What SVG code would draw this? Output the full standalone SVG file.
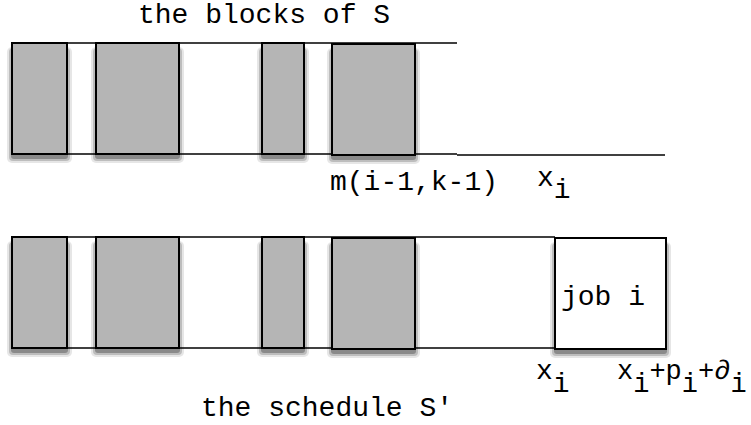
<svg xmlns="http://www.w3.org/2000/svg" width="751" height="425" viewBox="0 0 751 425">
<style>
text{font-family:"Liberation Mono","DejaVu Sans Mono",monospace;font-size:28px;fill:#000}
.blk{fill:#b5b5b5;stroke:#000;stroke-width:2}
.job{fill:#fff;stroke:#000;stroke-width:2}
.ln{stroke:#000;stroke-width:1.5;fill:none}
.sm{font-size:27px}
.s1{fill:#e6e6e6}
.s2{fill:#bdbdbd}
.s3{fill:#8a8a8a}
</style>
<g id="shadows">
<rect class="s1" x="7" y="47" width="65" height="116" rx="5"/><rect class="s2" x="9" y="48" width="61" height="113" rx="4"/><rect class="s3" x="11" y="50" width="57" height="109" rx="3"/>
<rect class="s1" x="91" y="47" width="93" height="116" rx="5"/><rect class="s2" x="93" y="48" width="89" height="113" rx="4"/><rect class="s3" x="95" y="50" width="85" height="109" rx="3"/>
<rect class="s1" x="257" y="47" width="52" height="116" rx="5"/><rect class="s2" x="259" y="48" width="48" height="113" rx="4"/><rect class="s3" x="261" y="50" width="44" height="109" rx="3"/>
<rect class="s1" x="327" y="48" width="93" height="116" rx="5"/><rect class="s2" x="329" y="49" width="89" height="113" rx="4"/><rect class="s3" x="331" y="51" width="85" height="109" rx="3"/>
<rect class="s1" x="7" y="241" width="65" height="116" rx="5"/><rect class="s2" x="9" y="242" width="61" height="113" rx="4"/><rect class="s3" x="11" y="244" width="57" height="109" rx="3"/>
<rect class="s1" x="91" y="241" width="93" height="116" rx="5"/><rect class="s2" x="93" y="242" width="89" height="113" rx="4"/><rect class="s3" x="95" y="244" width="85" height="109" rx="3"/>
<rect class="s1" x="257" y="241" width="52" height="116" rx="5"/><rect class="s2" x="259" y="242" width="48" height="113" rx="4"/><rect class="s3" x="261" y="244" width="44" height="109" rx="3"/>
<rect class="s1" x="327" y="242" width="93" height="116" rx="5"/><rect class="s2" x="329" y="243" width="89" height="113" rx="4"/><rect class="s3" x="331" y="245" width="85" height="109" rx="3"/>
<rect class="s1" x="550" y="242" width="121" height="116" rx="5"/><rect class="s2" x="552" y="243" width="117" height="113" rx="4"/><rect class="s3" x="554" y="245" width="113" height="109" rx="3"/>
</g>
<g id="connectors">
<line class="ln" x1="12" y1="43" x2="457" y2="43"/>
<line class="ln" x1="12" y1="154" x2="457" y2="154"/>
<line class="ln" x1="457" y1="155" x2="665" y2="155"/>
<line class="ln" x1="12" y1="237" x2="555" y2="237"/>
<line class="ln" x1="12" y1="348" x2="555" y2="348"/>
</g>
<g id="top-block-1"><rect class="blk" x="12" y="43" width="55" height="111"/></g>
<g id="top-block-2"><rect class="blk" x="96" y="43" width="83" height="111"/></g>
<g id="top-block-3"><rect class="blk" x="262" y="43" width="42" height="111"/></g>
<g id="top-block-4"><rect class="blk" x="332" y="44" width="83" height="111"/></g>
<g id="bottom-block-1"><rect class="blk" x="12" y="237" width="55" height="111"/></g>
<g id="bottom-block-2"><rect class="blk" x="96" y="237" width="83" height="111"/></g>
<g id="bottom-block-3"><rect class="blk" x="262" y="237" width="42" height="111"/></g>
<g id="bottom-block-4"><rect class="blk" x="332" y="238" width="83" height="111"/></g>
<g id="job-i">
<rect class="job" x="555" y="238" width="111" height="111"/>
<text x="561" y="305">job i</text>
</g>
<g id="labels">
<text x="138" y="23">the blocks of S</text>
<text x="330" y="190">m(i-1,k-1)</text>
<text x="537" y="186">x<tspan dy="12">i</tspan></text>
<text x="536" y="379">x<tspan dy="13">i</tspan></text>
<text class="sm" x="617" y="379">x<tspan dy="13">i</tspan><tspan dy="-13">+p</tspan><tspan dy="13">i</tspan><tspan dy="-13">+∂</tspan><tspan dy="13">i</tspan></text>
<text x="201" y="416">the schedule S'</text>
</g>
</svg>
